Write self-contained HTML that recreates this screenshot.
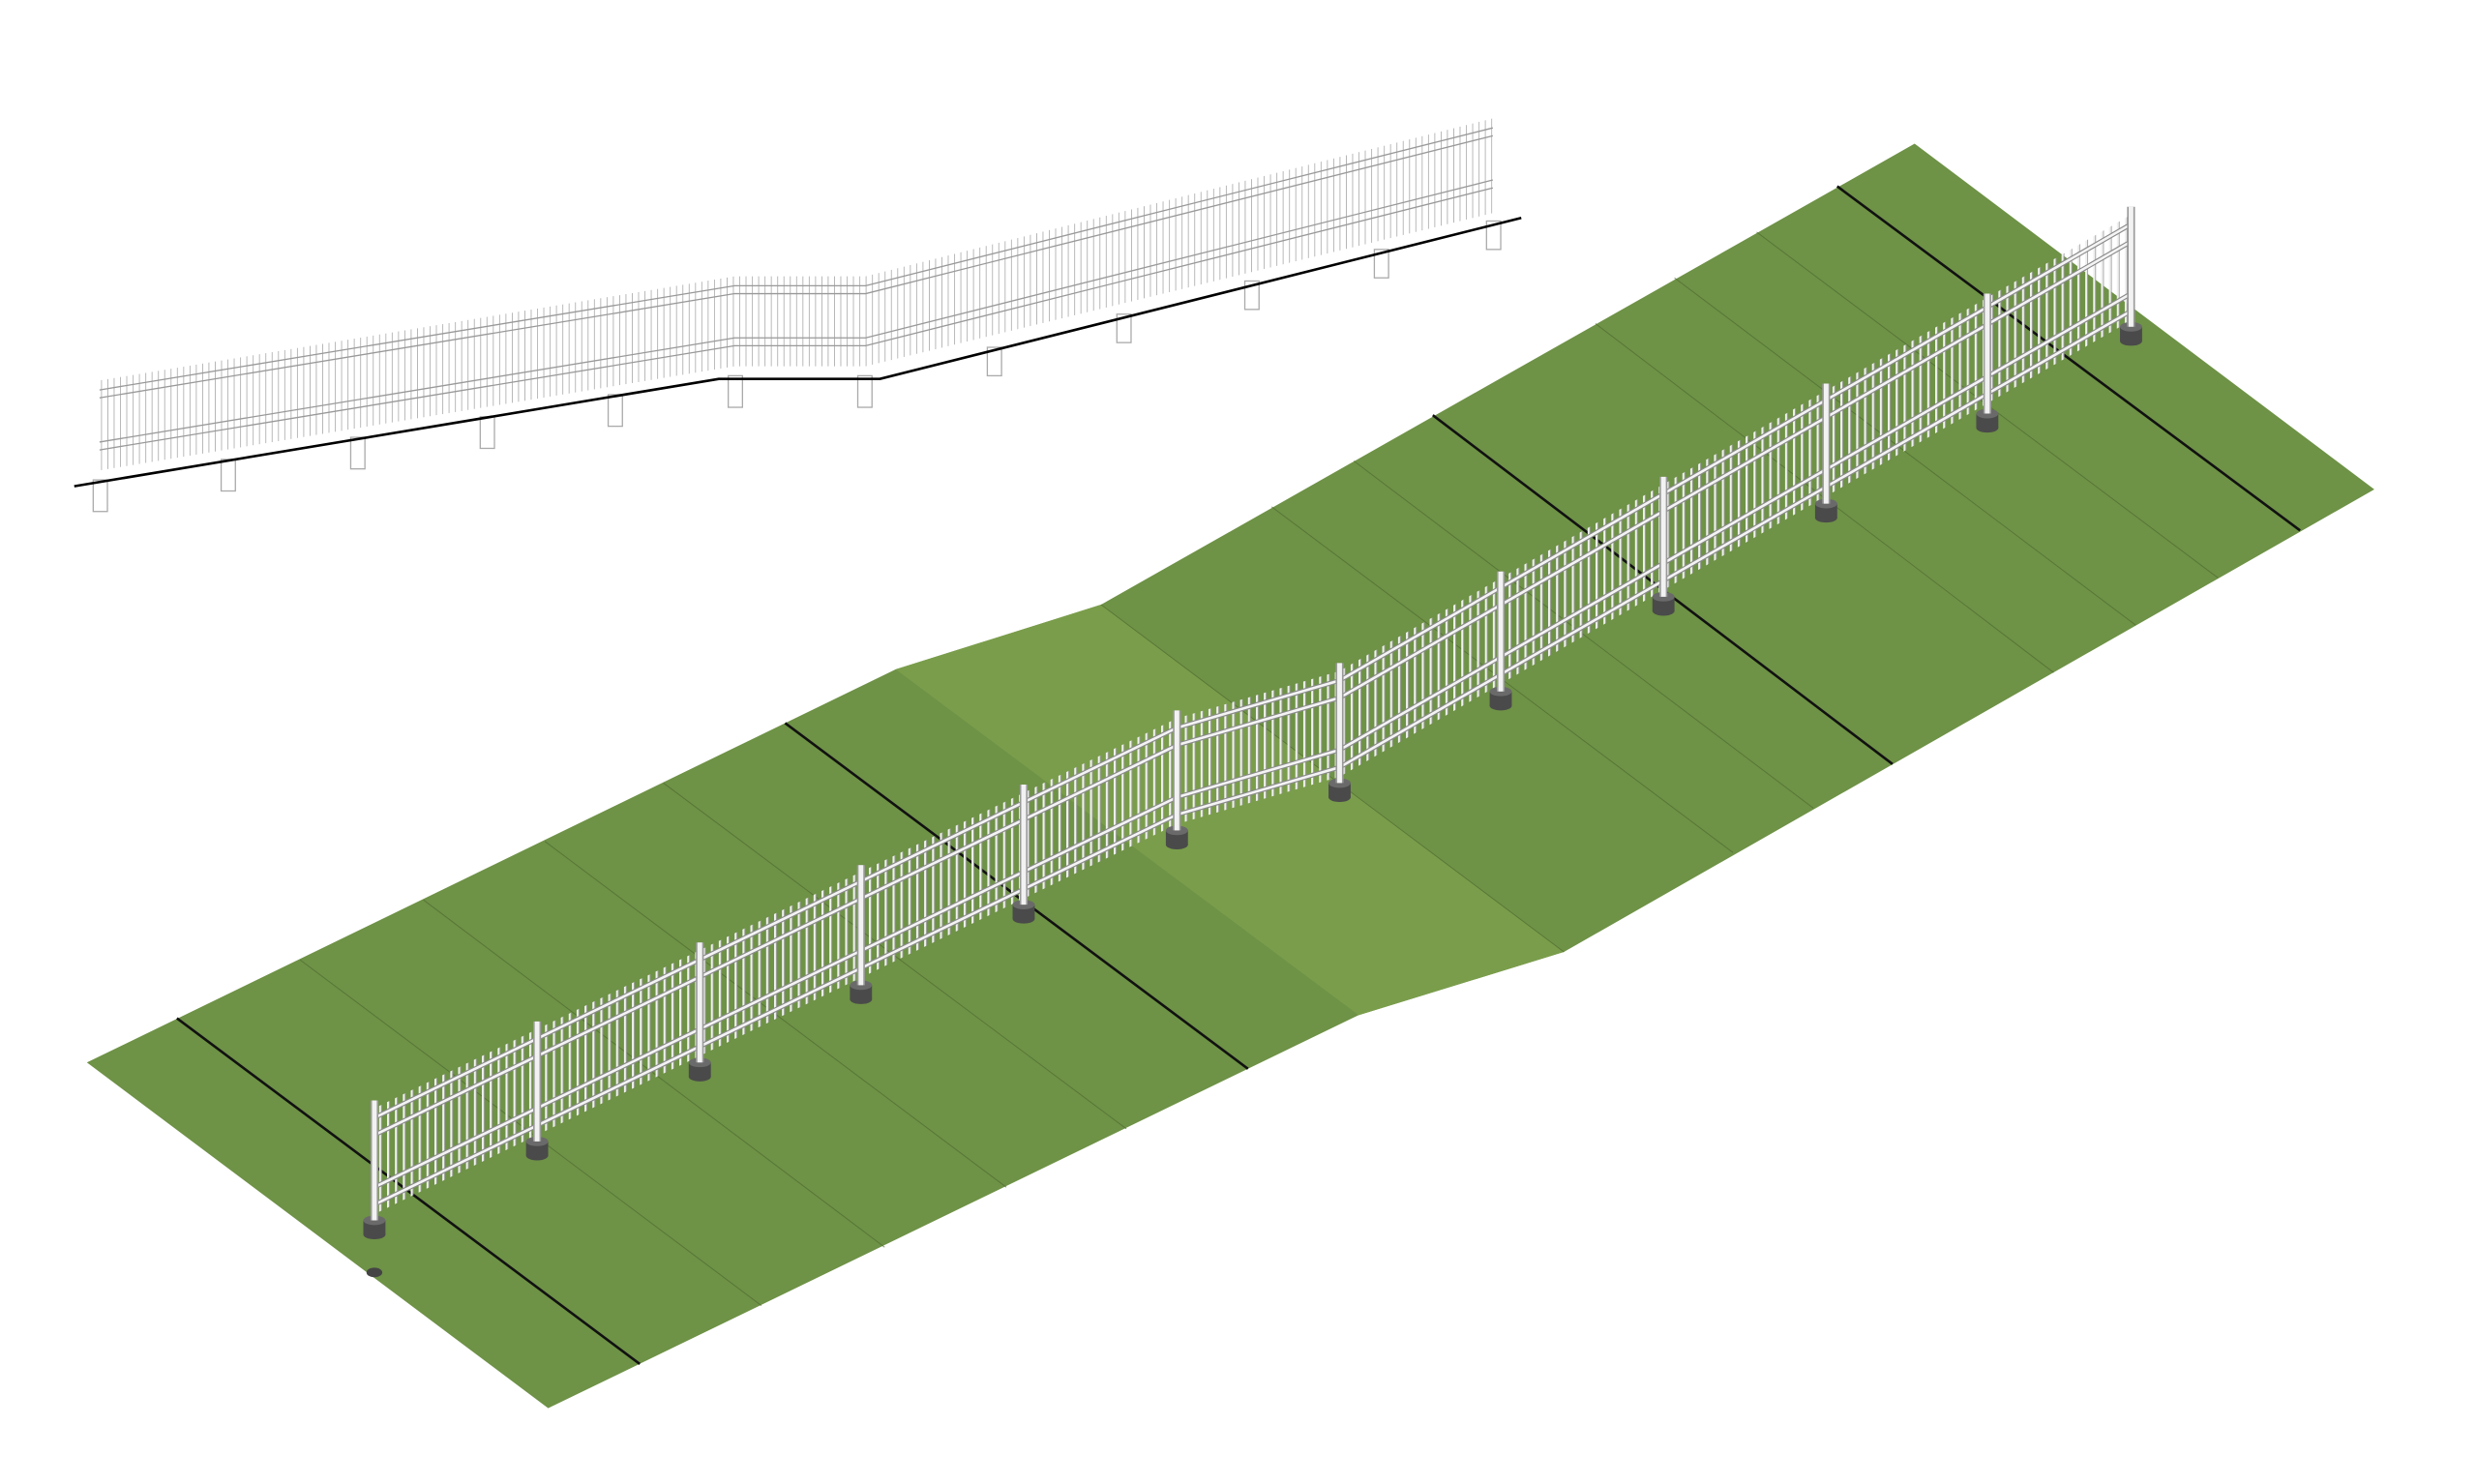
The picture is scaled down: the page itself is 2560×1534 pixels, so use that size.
<!DOCTYPE html>
<html><head><meta charset="utf-8"><style>
html,body{margin:0;padding:0;background:#fff;}
svg{display:block;}
</style></head><body>
<svg width="2560" height="1534" viewBox="0 0 1568 940" preserveAspectRatio="none" xmlns="http://www.w3.org/2000/svg">
<defs>
<pattern id="pk" width="5" height="10" patternUnits="userSpaceOnUse">
<rect x="0" y="0" width="1.3" height="10" fill="#f0f0f0"/>
<rect x="1.3" y="0" width="0.5" height="10" fill="#999"/>
</pattern>
<pattern id="pk2" width="4" height="10" patternUnits="userSpaceOnUse">
<rect x="0" y="0" width="0.5" height="10" fill="#aaa"/>
</pattern>
<g id="rail"><polyline points="237,0 745,-247 848,-277 1349,-566" fill="none"/></g>
</defs>
<!-- ground -->
<polygon points="55,673 567,424 697,383 1212,91 1503,310 990,603 860,643 347,892" fill="#6e9246"/>
<polygon points="567,424 697,383 990,603 860,643" fill="#7a9d4b"/>
<!-- faint section lines -->
<g stroke="#4e6a30" stroke-width="0.6" opacity="0.7">
<line x1="190" y1="608" x2="482" y2="827"/>
<line x1="268" y1="570" x2="560" y2="790"/>
<line x1="345" y1="533" x2="637" y2="752"/>
<line x1="420" y1="496" x2="713" y2="715"/>
<line x1="697" y1="383" x2="990" y2="603"/>
<line x1="805" y1="321" x2="1097" y2="540"/>
<line x1="857" y1="292" x2="1148" y2="512"/>
<line x1="1010" y1="205" x2="1300" y2="426"/>
<line x1="1060" y1="176" x2="1352" y2="396"/>
<line x1="1112" y1="147" x2="1404" y2="366"/>
</g>
<g stroke="#111" stroke-width="1.6">
<line x1="112" y1="645" x2="405" y2="864"/>
<line x1="497" y1="458" x2="790" y2="677"/>
<line x1="907" y1="263" x2="1198" y2="484"/>
<line x1="1163" y1="118" x2="1456" y2="336"/>
</g>
<!-- main fence pickets -->
<polygon points="237,702 745,455 848,425 1349,136 1349,203 848,492 745,522 237,769" fill="url(#pk)"/>
<!-- rails -->
<g stroke="#8a8a8a" stroke-width="3">
<use href="#rail" y="708"/><use href="#rail" y="719"/><use href="#rail" y="752"/><use href="#rail" y="763"/>
</g>
<g stroke="#f4f4f4" stroke-width="1.6">
<use href="#rail" y="708"/><use href="#rail" y="719"/><use href="#rail" y="752"/><use href="#rail" y="763"/>
</g>
<!-- footings -->
<g>
<ellipse cx="237" cy="806" rx="5" ry="3" fill="#444"/>
<g fill="#4a4a4a">
<rect x="230" y="773" width="14" height="9"/><rect x="333" y="723" width="14" height="9"/><rect x="436" y="673" width="14" height="9"/><rect x="538" y="624" width="14" height="9"/><rect x="641" y="573" width="14" height="9"/><rect x="738" y="526" width="14" height="9"/><rect x="841" y="496" width="14" height="9"/><rect x="943" y="438" width="14" height="9"/><rect x="1046" y="378" width="14" height="9"/><rect x="1149" y="319" width="14" height="9"/><rect x="1251" y="262" width="14" height="9"/><rect x="1342" y="207" width="14" height="9"/>
</g>
<g fill="#4a4a4a">
<ellipse cx="237" cy="782" rx="7" ry="3"/><ellipse cx="340" cy="732" rx="7" ry="3"/><ellipse cx="443" cy="682" rx="7" ry="3"/><ellipse cx="545" cy="633" rx="7" ry="3"/><ellipse cx="648" cy="582" rx="7" ry="3"/><ellipse cx="745" cy="535" rx="7" ry="3"/><ellipse cx="848" cy="505" rx="7" ry="3"/><ellipse cx="950" cy="447" rx="7" ry="3"/><ellipse cx="1053" cy="387" rx="7" ry="3"/><ellipse cx="1156" cy="328" rx="7" ry="3"/><ellipse cx="1258" cy="271" rx="7" ry="3"/><ellipse cx="1349" cy="216" rx="7" ry="3"/>
</g>
<g fill="#6a6a6a">
<ellipse cx="237" cy="773" rx="7" ry="3"/><ellipse cx="340" cy="723" rx="7" ry="3"/><ellipse cx="443" cy="673" rx="7" ry="3"/><ellipse cx="545" cy="624" rx="7" ry="3"/><ellipse cx="648" cy="573" rx="7" ry="3"/><ellipse cx="745" cy="526" rx="7" ry="3"/><ellipse cx="848" cy="496" rx="7" ry="3"/><ellipse cx="950" cy="438" rx="7" ry="3"/><ellipse cx="1053" cy="378" rx="7" ry="3"/><ellipse cx="1156" cy="319" rx="7" ry="3"/><ellipse cx="1258" cy="262" rx="7" ry="3"/><ellipse cx="1349" cy="207" rx="7" ry="3"/>
</g>
</g>
<!-- posts -->
<g stroke="#999" stroke-width="5"><line x1="237" y1="697" x2="237" y2="773"/><line x1="340" y1="647" x2="340" y2="723"/><line x1="443" y1="597" x2="443" y2="673"/><line x1="545" y1="548" x2="545" y2="624"/><line x1="648" y1="497" x2="648" y2="573"/><line x1="745" y1="450" x2="745" y2="526"/><line x1="848" y1="420" x2="848" y2="496"/><line x1="950" y1="362" x2="950" y2="438"/><line x1="1053" y1="302" x2="1053" y2="378"/><line x1="1156" y1="243" x2="1156" y2="319"/><line x1="1258" y1="186" x2="1258" y2="262"/><line x1="1349" y1="131" x2="1349" y2="207"/></g>
<g stroke="#f2f2f2" stroke-width="3"><line x1="237" y1="697" x2="237" y2="773"/><line x1="340" y1="647" x2="340" y2="723"/><line x1="443" y1="597" x2="443" y2="673"/><line x1="545" y1="548" x2="545" y2="624"/><line x1="648" y1="497" x2="648" y2="573"/><line x1="745" y1="450" x2="745" y2="526"/><line x1="848" y1="420" x2="848" y2="496"/><line x1="950" y1="362" x2="950" y2="438"/><line x1="1053" y1="302" x2="1053" y2="378"/><line x1="1156" y1="243" x2="1156" y2="319"/><line x1="1258" y1="186" x2="1258" y2="262"/><line x1="1349" y1="131" x2="1349" y2="207"/></g>
<!-- elevation -->
<polygon points="63,241 465,175 548,175 945,75 945,135 548,232 465,232 63,298" fill="url(#pk2)"/>
<g fill="none" stroke="#999" stroke-width="0.8">
<polyline points="63,247 465,181 548,181 945,81"/>
<polyline points="63,252 465,186 548,186 945,86"/>
<polyline points="63,280 465,214 548,214 945,114"/>
<polyline points="63,285 465,219 548,219 945,119"/>
</g>
<g fill="#fff" stroke="#aaa" stroke-width="0.8">
<rect x="59" y="304" width="9" height="20"/><rect x="140" y="291" width="9" height="20"/><rect x="222" y="277" width="9" height="20"/><rect x="304" y="264" width="9" height="20"/><rect x="385" y="250" width="9" height="20"/><rect x="461" y="238" width="9" height="20"/><rect x="543" y="238" width="9" height="20"/><rect x="625" y="220" width="9" height="18"/><rect x="707" y="199" width="9" height="18"/><rect x="788" y="178" width="9" height="18"/><rect x="870" y="158" width="9" height="18"/><rect x="941" y="140" width="9" height="18"/>
</g>
<polyline points="47,308 455,240 557,240 963,138" fill="none" stroke="#000" stroke-width="1.6"/>
</svg>
</body></html>
